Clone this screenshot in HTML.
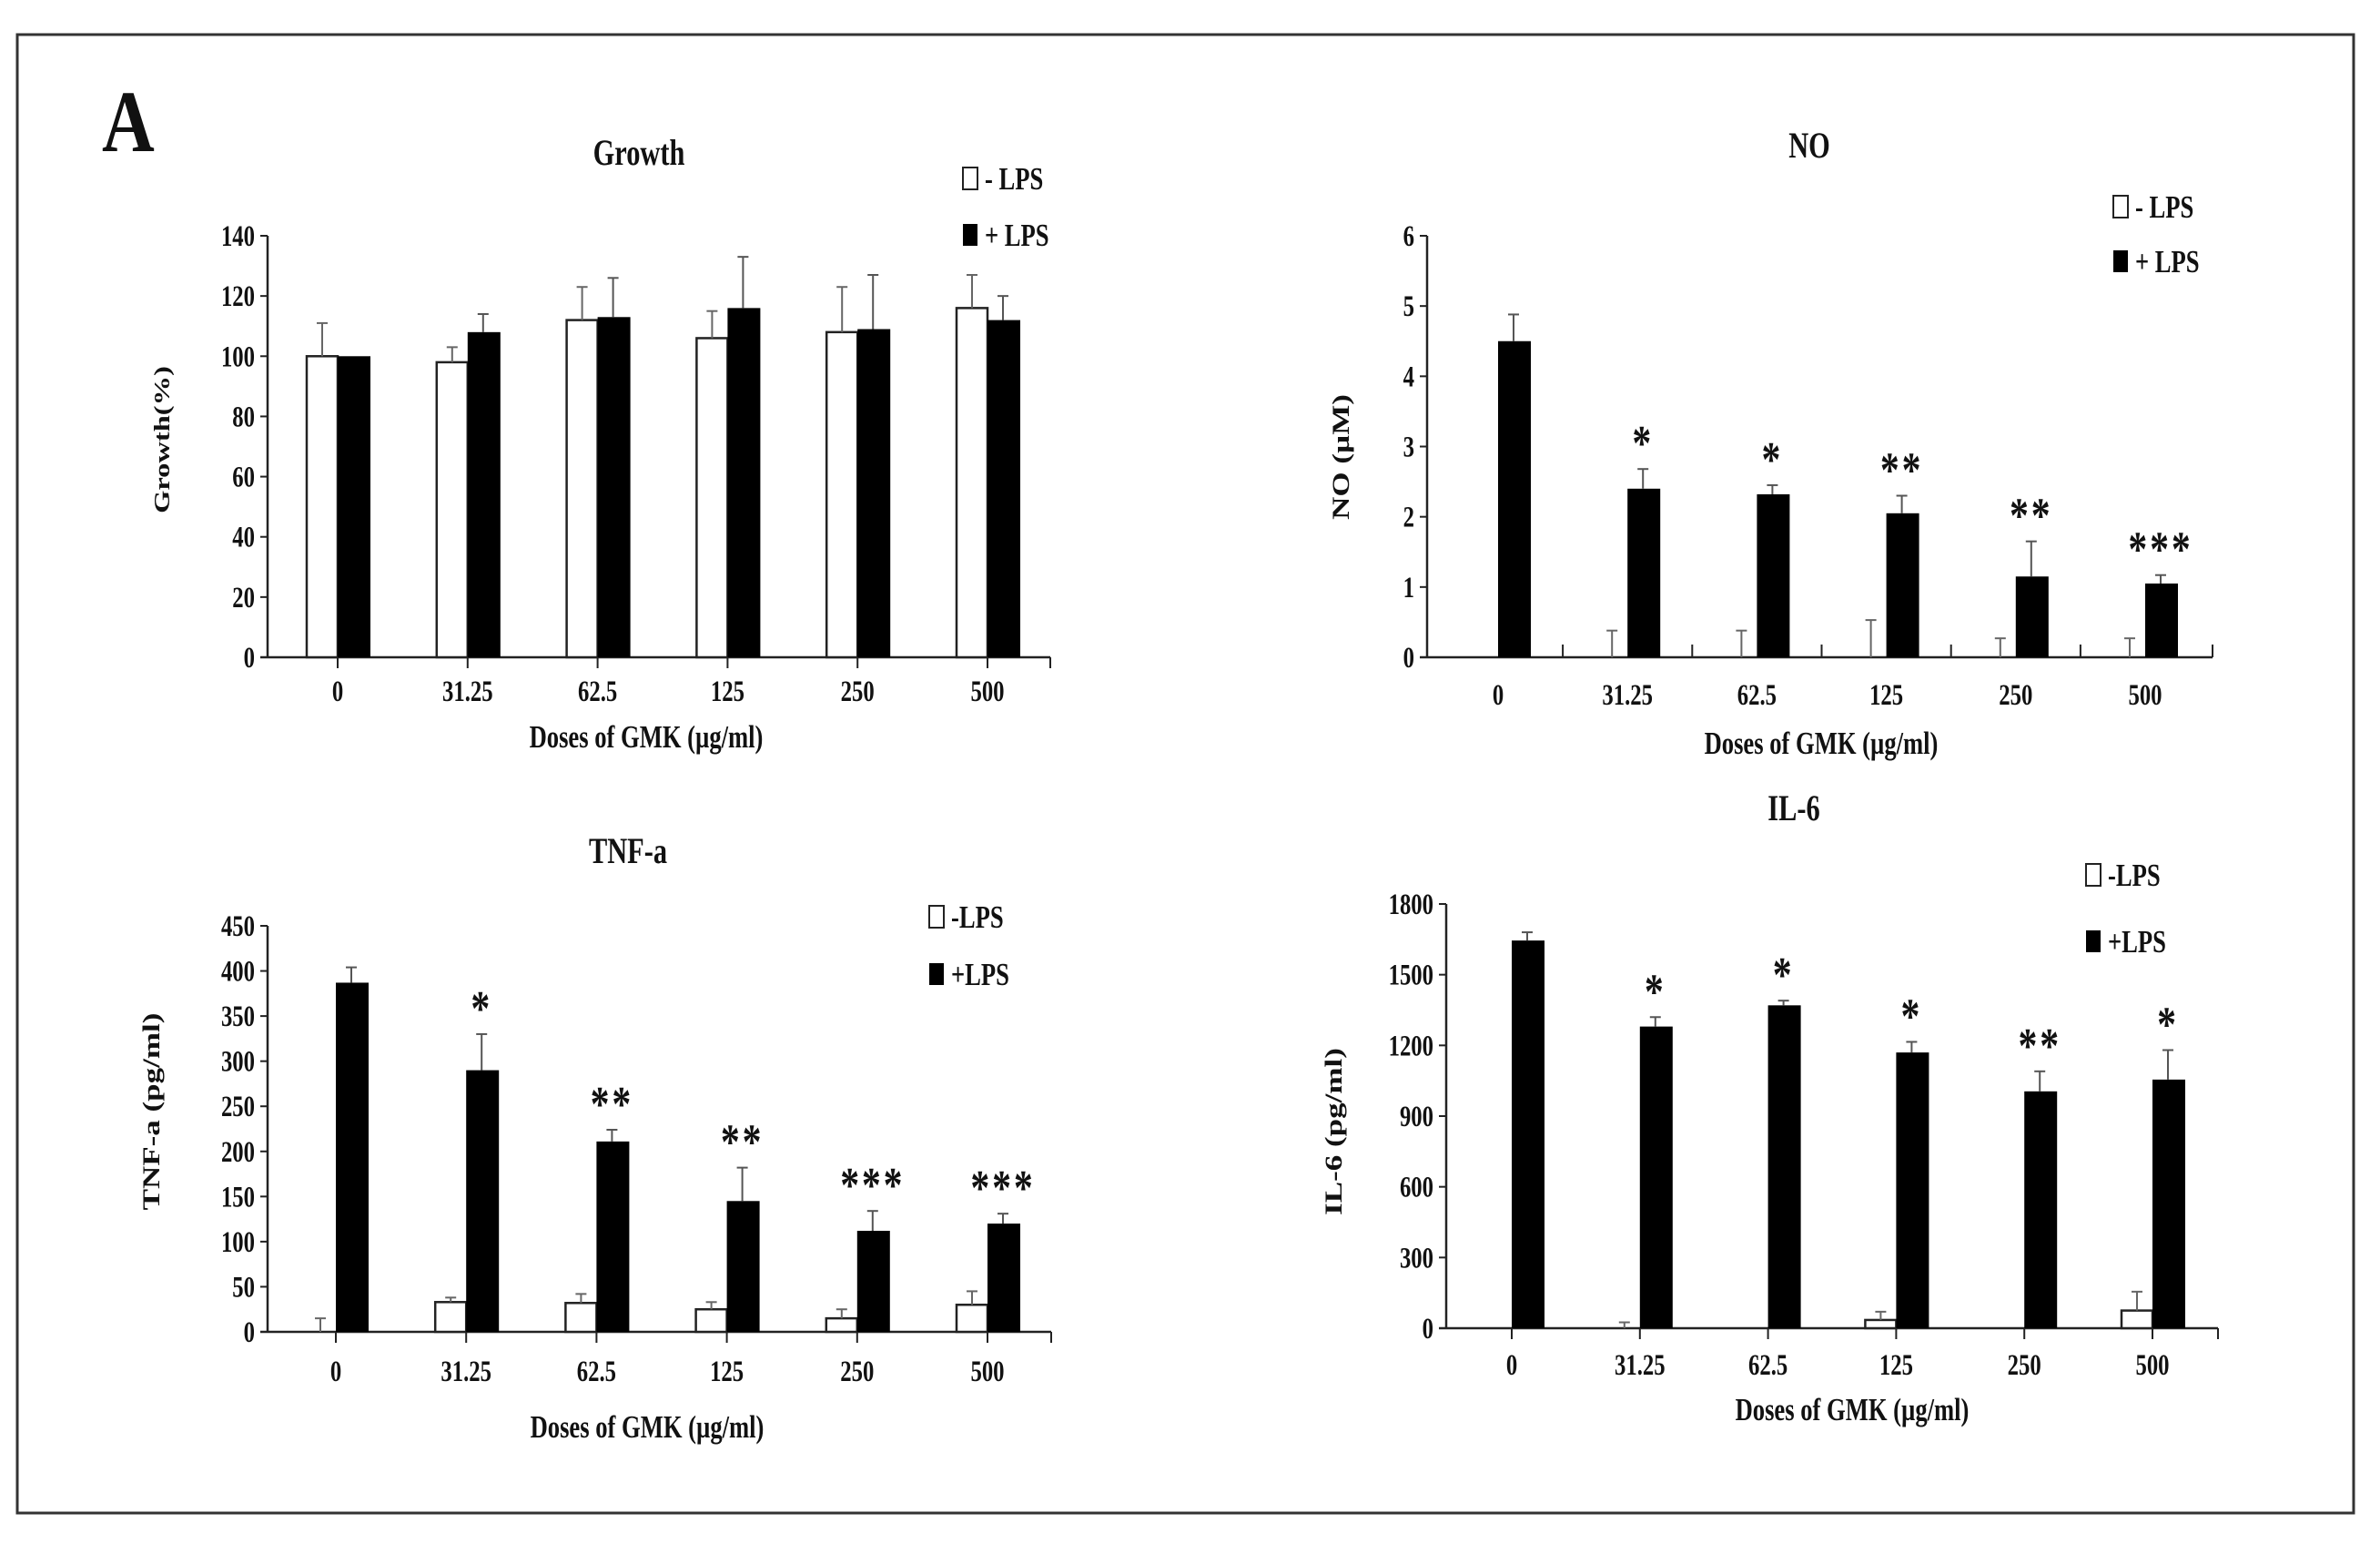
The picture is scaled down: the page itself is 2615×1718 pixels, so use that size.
<!DOCTYPE html>
<html><head><meta charset="utf-8">
<style>
html,body{margin:0;padding:0;background:#fff;}
svg{display:block;}
text{font-family:"Liberation Serif",serif;font-weight:bold;fill:#111;}
</style></head>
<body>
<svg id="fig" width="2615" height="1718" viewBox="0 0 2615 1718" xmlns="http://www.w3.org/2000/svg">
<rect x="19" y="38" width="2567" height="1624" fill="#fff" stroke="#333" stroke-width="3"/>
<text x="0" y="0" font-size="80" transform="translate(112,166) scale(1,1.2)">A</text>
</svg>
<script>
const categories = ["0","31.25","62.5","125","250","500"];

const growthMinus = [100,98,112,106,108,116];
const growthMinusErr = [11,5,11,9,15,11];
const growthPlus = [100,108,113,116,109,112];
const growthPlusErr = [0,6,13,17,18,8];
const growthTicks = [0,20,40,60,80,100,120,140];
const growthStars = ["","","","","",""];

const noMinus = [0,0,0,0,0,0];
const noMinusErr = [0,0.38,0.38,0.53,0.27,0.27];
const noPlus = [4.5,2.4,2.32,2.05,1.15,1.05];
const noPlusErr = [0.38,0.28,0.13,0.25,0.5,0.12];
const noTicks = [0,1,2,3,4,5,6];
const noStars = ["","*","*","**","**","***"];

const tnfMinus = [0,33,32,25,15,30];
const tnfMinusErr = [15,5,10,8,10,15];
const tnfPlus = [387,290,211,145,112,120];
const tnfPlusErr = [17,40,13,37,22,11];
const tnfTicks = [0,50,100,150,200,250,300,350,400,450];
const tnfStars = ["","*","**","**","***","***"];

const il6Minus = [0,0,0,35,0,75];
const il6MinusErr = [0,25,0,35,0,80];
const il6Plus = [1645,1280,1370,1170,1005,1055];
const il6PlusErr = [35,40,20,45,85,125];
const il6Ticks = [0,300,600,900,1200,1500,1800];
const il6Stars = ["","*","*","*","**","*"];

const NS="http://www.w3.org/2000/svg";
const svg=document.getElementById('fig');
function mk(tag,attrs,parent){const e=document.createElementNS(NS,tag);for(const k in attrs)e.setAttribute(k,attrs[k]);(parent||svg).appendChild(e);return e;}
function txt(parent,x,y,size,anchor,str,extra){
  const e=mk('text',Object.assign({x:0,y:0,'font-size':size,'text-anchor':anchor,transform:`translate(${x},${y}) scale(0.95,1.25)`},extra||{}),parent);
  e.textContent=str;return e;
}

function chart(cfg){
  const g=mk('g',{});
  
  
  const y0=cfg.y0,yt=cfg.yTop,max=cfg.ticks[cfg.ticks.length-1];
  const yS=v=>y0-(v/max)*(y0-yt);
  const n=categories.length;
  const cw=cfg.cw;
  const cx=i=>cfg.c0+i*cw;
  const ya=mk('line',{x1:cfg.x0,y1:yt,x2:cfg.x0,y2:y0,stroke:'#222','stroke-width':2.5},g);
  
  
  cfg.ticks.forEach(t=>{
    mk('line',{x1:cfg.x0-8,y1:yS(t),x2:cfg.x0,y2:yS(t),stroke:'#222','stroke-width':2},g);
    const tl=txt(g,cfg.x0-14,yS(t)+11,26,'end',t);
    
    
  });
  const xa=mk('line',{x1:cfg.x0-8,y1:y0,x2:cfg.xEnd,y2:y0,stroke:'#222','stroke-width':2.5},g);
  
  
  mk('line',{x1:cfg.xEnd,y1:y0-(cfg.boundaryTicks?14:0),x2:cfg.xEnd,y2:y0+(cfg.boundaryTicks?0:12),stroke:'#222','stroke-width':2},g);
  for(let i=0;i<n;i++){
    const c=cx(i);
    if(cfg.boundaryTicks){ if(i>0) mk('line',{x1:c-cw/2,y1:y0-14,x2:c-cw/2,y2:y0,stroke:'#222','stroke-width':2},g); }
    else mk('line',{x1:c,y1:y0,x2:c,y2:y0+12,stroke:'#222','stroke-width':2},g);
    const bw=34;
    if(cfg.minus[i]>0){
      const b=mk('rect',{x:c-bw,y:yS(cfg.minus[i]),width:bw,height:y0-yS(cfg.minus[i]),fill:'#fff',stroke:'#222','stroke-width':2.5},g);
      
      
    }
    if(cfg.minusErr[i]>0){
      const top=yS(cfg.minus[i]+cfg.minusErr[i]);
      mk('line',{x1:c-bw/2,y1:yS(cfg.minus[i]),x2:c-bw/2,y2:top,stroke:'#666','stroke-width':2},g);
      mk('line',{x1:c-bw/2-6,y1:top,x2:c-bw/2+6,y2:top,stroke:'#666','stroke-width':2},g);
    }
    const pb=mk('rect',{x:c,y:yS(cfg.plus[i]),width:bw+2,height:y0-yS(cfg.plus[i]),fill:'#000'},g);
    
    
    const ptop=yS(cfg.plus[i]+cfg.plusErr[i]);
    if(cfg.plusErr[i]>0){
      mk('line',{x1:c+bw/2,y1:yS(cfg.plus[i]),x2:c+bw/2,y2:ptop,stroke:'#555','stroke-width':2},g);
      mk('line',{x1:c+bw/2-6,y1:ptop,x2:c+bw/2+6,y2:ptop,stroke:'#555','stroke-width':2},g);
    }
    if(cfg.stars[i]){
      const s=txt(g,c+bw/2,ptop-10,44,'middle',cfg.stars[i],{'letter-spacing':3});
      
      
    }
    const xl=txt(g,c,cfg.labelY,26,'middle',categories[i]);
    
    
  }
  const t=txt(g,cfg.titleX,cfg.titleY+3,32,'middle',cfg.title);
  
  
  const xt=txt(g,cfg.xtX,cfg.xtY+3,28,'middle','Doses of GMK (µg/ml)');
  
  
  const yl=mk('text',{x:0,y:0,'font-size':cfg.ytSize||28,'text-anchor':'middle',transform:`translate(${cfg.ytX},${cfg.ytY}) rotate(-90) scale(1.25,0.95)`},g);
  yl.textContent=cfg.yTitle;
  
  
  const l1=mk('rect',{x:cfg.legX,y:cfg.legY1-12,width:16,height:24,fill:'#fff',stroke:'#222','stroke-width':2},g);
  
  
  const lt1=mk('text',{x:0,y:0,'font-size':28,transform:`translate(${cfg.legX+24},${cfg.legY1+12}) scale(0.95,1.25)`},g);
  lt1.textContent=cfg.legTexts[0];
  
  
  const l2=mk('rect',{x:cfg.legX,y:cfg.legY2-12,width:16,height:24,fill:'#000'},g);
  
  
  const lt2=mk('text',{x:0,y:0,'font-size':28,transform:`translate(${cfg.legX+24},${cfg.legY2+12}) scale(0.95,1.25)`},g);
  lt2.textContent=cfg.legTexts[1];
  
  
}

chart({name:'growth',minus:growthMinus,minusErr:growthMinusErr,plus:growthPlus,plusErr:growthPlusErr,ticks:growthTicks,stars:growthStars,
  x0:294,xEnd:1154,y0:722,yTop:259,c0:371,cw:142.8,labelY:770,title:'Growth',titleX:702,titleY:178,xtX:710,xtY:818,
  yTitle:'Growth(%)',ytX:186,ytY:483,ytSize:26,legX:1058,legY1:196,legY2:258,legTexts:['- LPS','+ LPS']});
chart({name:'no',minus:noMinus,minusErr:noMinusErr,plus:noPlus,plusErr:noPlusErr,ticks:noTicks,stars:noStars,boundaryTicks:true,
  x0:1568,xEnd:2431,y0:722,yTop:259,c0:1646,cw:142.2,labelY:774,title:'NO',titleX:1988,titleY:170,xtX:2001,xtY:825,
  yTitle:'NO (µM)',ytX:1482,ytY:502,legX:2322,legY1:227,legY2:287,legTexts:['- LPS','+ LPS']});
chart({name:'tnf',minus:tnfMinus,minusErr:tnfMinusErr,plus:tnfPlus,plusErr:tnfPlusErr,ticks:tnfTicks,stars:tnfStars,
  x0:294,xEnd:1155,y0:1463,yTop:1017,c0:369,cw:143.2,labelY:1517,title:'TNF-a',titleX:690,titleY:945,xtX:711,xtY:1576,
  yTitle:'TNF-a (pg/ml)',ytX:175,ytY:1221,legX:1021,legY1:1007,legY2:1070,legTexts:['-LPS','+LPS']});
chart({name:'il6',minus:il6Minus,minusErr:il6MinusErr,plus:il6Plus,plusErr:il6PlusErr,ticks:il6Ticks,stars:il6Stars,
  x0:1589,xEnd:2437,y0:1459,yTop:993,c0:1661,cw:140.8,labelY:1510,title:'IL-6',titleX:1971,titleY:898,xtX:2035,xtY:1557,
  yTitle:'IL-6 (pg/ml)',ytX:1474,ytY:1243,legX:2292,legY1:961,legY2:1034,legTexts:['-LPS','+LPS']});
</script>
</body></html>
